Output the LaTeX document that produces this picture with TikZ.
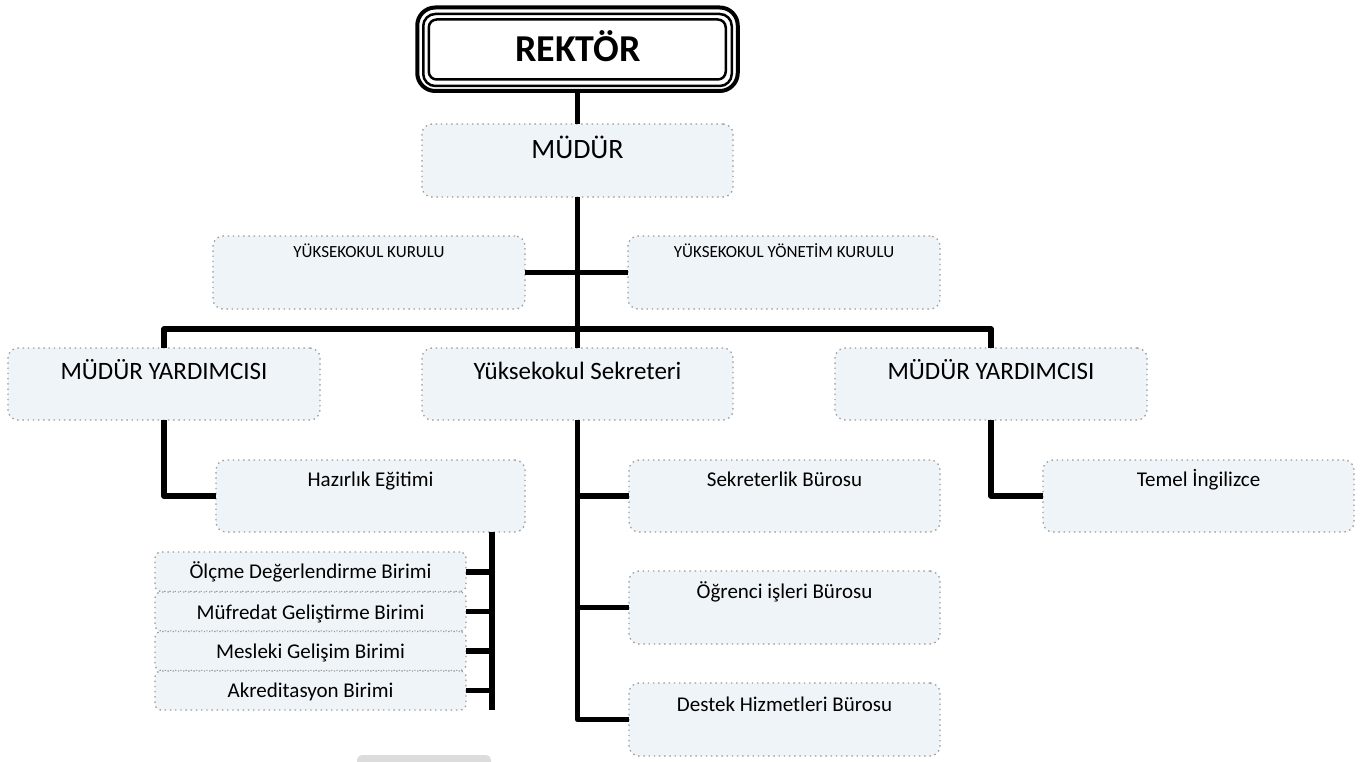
\documentclass[tikz,border=0pt]{standalone}
\usepackage{fontspec}
\setmainfont{Carlito}
\definecolor{boxfill}{HTML}{EFF4F8}
\definecolor{boxline}{HTML}{9A9A9A}
\definecolor{shadowgray}{HTML}{DCDCDC}
\tikzset{
  box/.style={draw=boxline, line width=1.3pt, dash pattern=on 1.4pt off 3.8pt,
    fill=boxfill, rounded corners=10pt, inner sep=0pt, outer sep=0pt,
    minimum width=311pt, minimum height=73pt},
  smallbox/.style={box, rounded corners=6pt, minimum width=311pt},
  conn/.style={line width=5.5pt, line join=round, draw=black},
  lbl/.style={inner sep=0pt, outer sep=0pt, anchor=base, text=black},
  bigtxt/.style={lbl, font=\fontsize{28}{30}\selectfont},
  midtxt/.style={lbl, font=\fontsize{25}{27}\selectfont},
  stdtxt/.style={lbl, font=\fontsize{21}{23}\selectfont},
  smltxt/.style={lbl, font=\fontsize{17}{19}\selectfont},
}
\begin{document}
\begin{tikzpicture}[x=1pt,y=-1pt]
\clip (0,0) rectangle (1364,762);
\fill[white] (0,0) rectangle (1364,762);

% faint grey shape at bottom
\fill[shadowgray, rounded corners=5pt] (357,755) rectangle (491,790);

% REKTOR box (triple border)
\node[draw=black, line width=2.5pt, rounded corners=12pt, fill=white, inner sep=0pt, outer sep=0pt,
      minimum width=308.5pt, minimum height=72pt] (rek) at (577.5,50) {};
\draw[line width=4pt, rounded corners=18pt] ([shift={(-6,-6.5)}]rek.north west) rectangle ([shift={(6,5)}]rek.south east);
\draw[line width=2.5pt, rounded corners=8pt] ([shift={(5.5,5.5)}]rek.north west) rectangle ([shift={(-6,-6.5)}]rek.south east);
\node[lbl, font=\fontsize{38}{40}\selectfont\bfseries] (rekT) at (578,62) {REKTÖR};

% boxes
\node[box] (mudur) at (577.5,160.5) {};
\node[box, minimum width=312pt] (ykk) at (369,272.5) {};
\node[box, minimum width=312pt] (yyk) at (784,272.5) {};
\node[box, minimum width=312pt, minimum height=72pt] (my1) at (164,384) {};
\node[box, minimum height=72pt] (sek) at (577.5,384) {};
\node[box, minimum width=312pt, minimum height=72pt] (my2) at (991,384) {};
\node[box, minimum width=309pt, minimum height=72pt] (haz) at (370.5,496) {};
\node[box, minimum height=72pt] (sb) at (784.5,496) {};
\node[box] (ob) at (784.5,607.5) {};
\node[box] (dh) at (784.5,719.5) {};
\node[box, minimum height=72pt] (temel) at (1198.5,496) {};
\node[smallbox, minimum height=39.5pt] (olc) at (310.5,571.75) {};
\node[smallbox, minimum height=39pt] (muf) at (310.5,611.5) {};
\node[smallbox, minimum height=39pt] (mes) at (310.5,651) {};
\node[smallbox, minimum height=39pt] (akr) at (310.5,690.5) {};

% texts
\node[bigtxt] (mudurT) at ([shift={(0,35)}]mudur.north) {MÜDÜR};
\node[smltxt] (ykkT) at ([shift={(0,21)}]ykk.north) {YÜKSEKOKUL KURULU};
\node[smltxt] (yykT) at ([shift={(0,21)}]yyk.north) {YÜKSEKOKUL YÖNETİM KURULU};
\node[midtxt] (my1T) at ([shift={(0,31)}]my1.north) {MÜDÜR YARDIMCISI};
\node[midtxt] (sekT) at ([shift={(0,31)}]sek.north) {Yüksekokul Sekreteri};
\node[midtxt] (my2T) at ([shift={(0,31)}]my2.north) {MÜDÜR YARDIMCISI};
\node[stdtxt] (hazT) at ([shift={(0,26)}]haz.north) {Hazırlık Eğitimi};
\node[stdtxt] (sbT) at ([shift={(0,26.5)}]sb.north) {Sekreterlik Bürosu};
\node[stdtxt] (obT) at ([shift={(0,27)}]ob.north) {Öğrenci işleri Bürosu};
\node[stdtxt] (dhT) at ([shift={(0,28)}]dh.north) {Destek Hizmetleri Bürosu};
\node[stdtxt] (temelT) at ([shift={(0,26.5)}]temel.north) {Temel İngilizce};
\node[stdtxt] (olcT) at ([shift={(0,26)}]olc.north) {Ölçme Değerlendirme Birimi};
\node[stdtxt] (mufT) at ([shift={(0,27)}]muf.north) {Müfredat Geliştirme Birimi};
\node[stdtxt] (mesT) at ([shift={(0,26.5)}]mes.north) {Mesleki Gelişim Birimi};
\node[stdtxt] (akrT) at ([shift={(0,26)}]akr.north) {Akreditasyon Birimi};

% connectors
\coordinate (bar) at (577.5,329);
\coordinate (hspine) at (492,710);
\draw[conn] ([shift={(0,5)}]rek.south) -- (mudur.north);
\draw[conn] (mudur.south) -- (sek.north);
\draw[conn] (ykk.east) -- (yyk.west);
\draw[conn] (my1.north) |- (bar) -| (my2.north);
\draw[conn] (my1.south) |- (haz.west);
\draw[conn] (my2.south) |- (temel.west);
\draw[conn] (sek.south) |- (sb.west);
\draw[conn] (sek.south) |- (ob.west);
\draw[conn] (sek.south) |- (dh.west);
\draw[conn] (haz.south -| hspine) -- (hspine);
\draw[conn] (olc.east) -- (olc.east -| hspine);
\draw[conn] (muf.east) -- (muf.east -| hspine);
\draw[conn] (mes.east) -- (mes.east -| hspine);
\draw[conn] (akr.east) -- (akr.east -| hspine);
\end{tikzpicture}
\end{document}
